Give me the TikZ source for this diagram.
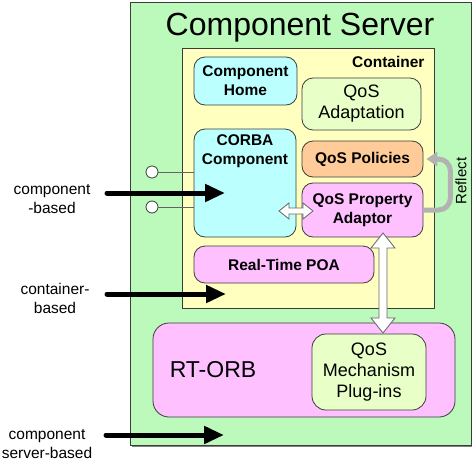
\documentclass[tikz,border=0pt]{standalone}
\usepackage{fontspec}
\setmainfont{Liberation Sans}
\usetikzlibrary{arrows.meta,shadows,calc}

\definecolor{servergreen}{RGB}{188,250,188}
\definecolor{contyellow}{RGB}{255,255,192}
\definecolor{boxcyan}{RGB}{187,255,255}
\definecolor{boxpink}{RGB}{255,192,255}
\definecolor{boxorange}{RGB}{255,204,153}
\definecolor{boxlime}{RGB}{232,255,200}
\definecolor{edgegray}{RGB}{60,60,60}
\definecolor{reflectgray}{RGB}{178,178,178}

\newcommand{\boldtxt}{\fontsize{15.5}{19}\selectfont\bfseries}
\newcommand{\plaintxt}{\fontsize{18}{21}\selectfont}

\begin{document}
\begin{tikzpicture}[x=1pt,y=-1pt,
  part/.style={draw=edgegray,line width=0.8pt,rounded corners=11pt,align=center,inner sep=0pt},
  bigarrow/.style={line width=5pt,line cap=round,-{Triangle[length=20pt,width=17pt]}},
  sidelabel/.style={align=center,font=\fontsize{15.5}{19}\selectfont},
  whitearrow/.style={draw=gray!80!black,fill=white,line width=0.8pt,line join=miter},
  port/.style={circle,draw=edgegray,fill=white,line width=0.8pt,minimum size=12pt,inner sep=0pt}]
\useasboundingbox (0,0) rectangle (472,461);

\node[draw=edgegray,fill=servergreen,line width=0.8pt,minimum width=341pt,minimum height=443pt,
  drop shadow={shadow xshift=1.5pt,shadow yshift=-1.5pt,fill=gray,opacity=1}] (server) at (300.5,223.5) {};
\node[anchor=base,font=\fontsize{32}{36}\selectfont] (title) at (300,35) {Component Server};

\node[draw=edgegray,fill=contyellow,line width=0.8pt,minimum width=252pt,minimum height=260pt,
  drop shadow={shadow xshift=1pt,shadow yshift=-1pt,fill=gray,opacity=1}] (container) at (308,178) {};
\node[anchor=base east,font=\boldtxt] (contlabel) at (428,67) {Container};

\node[part,fill=boxcyan,minimum width=103pt,minimum height=48pt,font=\boldtxt] (home) at (245.5,81) {Component\\Home};
\node[part,fill=boxlime,minimum width=119pt,minimum height=52pt,font=\plaintxt] (adapt) at (361.5,104) {QoS\\Adaptation};
\node[part,fill=boxcyan,minimum width=102pt,minimum height=108pt,
  label={[font=\boldtxt,align=center,anchor=north,yshift=-3pt]north:{CORBA\\Component}}] (corba) at (245,183) {};
\node[part,fill=boxorange,minimum width=121pt,minimum height=36pt,font=\boldtxt] (policies) at (362.5,159) {QoS Policies};
\node[part,fill=boxpink,minimum width=121pt,minimum height=54pt,font=\boldtxt] (adaptor) at (362.5,210) {QoS Property\\Adaptor};
\node[part,fill=boxpink,minimum width=180pt,minimum height=37pt,font=\boldtxt] (poa) at (284,264.5) {Real-Time POA};

\node[part,fill=boxpink,minimum width=302pt,minimum height=94pt,rounded corners=16pt] (rtorb) at (304,370) {};
\node[font=\fontsize{23}{27}\selectfont] (rtorblabel) at (213,370) {RT-ORB};
\node[part,fill=boxlime,minimum width=114pt,minimum height=76pt,rounded corners=14pt,font=\plaintxt] (mech) at (369,372) {QoS\\Mechanism\\Plug-ins};

% ports of the component
\node[port] (port1) at (152,172) {};
\node[port] (port2) at (152,207) {};
\draw[edgegray!80,line width=1pt] (port1) -- (port1 -| corba.west);
\draw[edgegray!80,line width=1pt] (port2) -- (port2 -| corba.west);

% reflection loop
\draw[reflectgray,line width=5pt,rounded corners=12pt,-{Triangle[length=11pt,width=14pt]}]
  (adaptor.east) -| ($(policies.east)+(27,0)$) -- ($(policies.east)+(3,0)$);
\node[rotate=90,font=\fontsize{15}{18}\selectfont] (reflectlabel) at (461,181) {Reflect};

% two-way links
\coordinate (hl) at (279,211);
\coordinate (hr) at (313,211);
\draw[whitearrow] (hl) -- ++(10,-8) -- ++(0,5) -- ($(hr)+(-10,-3)$) -- ++(0,-5) -- (hr)
  -- ++(-10,8) -- ++(0,-5) -- ($(hl)+(10,3)$) -- ++(0,5) -- cycle;
\coordinate (vtop) at (383,233);
\coordinate (vbot) at (383,333);
\draw[whitearrow] (vtop) -- ++(12,15) -- ++(-8,0) -- ($(vbot)+(4,-15)$) -- ++(8,0) -- (vbot)
  -- ++(-12,-15) -- ++(8,0) -- ($(vtop)+(-4,15)$) -- ++(-8,0) -- cycle;

% ways of configuring
\node[sidelabel] (cblabel) at (52,199) {component\\-based};
\node[sidelabel] (ctlabel) at (55,298) {container-\\based};
\node[sidelabel] (svlabel) at (47,444) {component\\server-based};
\coordinate (cbstart) at (107,193);
\coordinate (cbend) at (225,193);
\coordinate (ctstart) at (107,294);
\coordinate (ctend) at (226,294);
\coordinate (svstart) at (106,435);
\coordinate (svend) at (224,435);
\draw[bigarrow] (cbstart) -- (cbend);
\draw[bigarrow] (ctstart) -- (ctend);
\draw[bigarrow] (svstart) -- (svend);
\end{tikzpicture}
\end{document}
